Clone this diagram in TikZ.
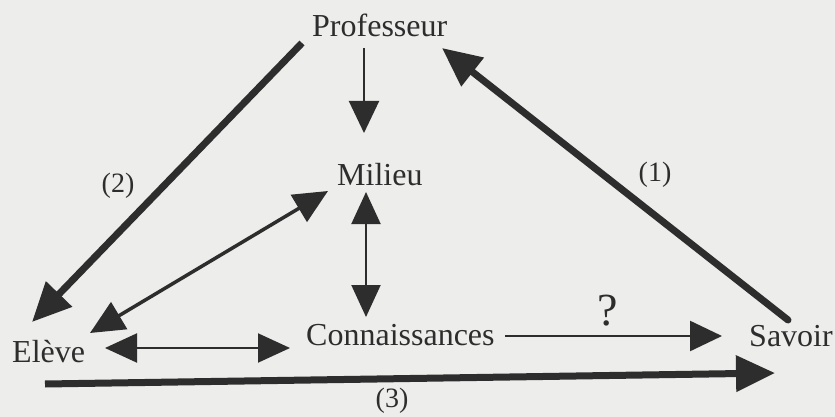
\documentclass[tikz,border=0pt]{standalone}
\usepackage{fontspec}
\setmainfont{Liberation Serif}
\usetikzlibrary{arrows.meta}
\definecolor{ink}{RGB}{45,45,45}
\definecolor{paper}{RGB}{237,237,235}
\tikzset{
  lbl/.style={inner sep=0pt, text=ink, font=\fontsize{32}{36}\selectfont, anchor=base west},
  num/.style={inner sep=0pt, text=ink, font=\fontsize{28}{32}\selectfont},
  thinarrow/.style={draw=ink, line width=2pt, -{Triangle[length=32pt,width=30pt]}},
  thinboth/.style={draw=ink, line width=2pt, {Triangle[length=32pt,width=29pt]}-{Triangle[length=32pt,width=29pt]}},
  medboth/.style={draw=ink, line width=3.5pt, {Triangle[length=34pt,width=31pt]}-{Triangle[length=34pt,width=31pt]}},
  thickarrow/.style={draw=ink, line width=7pt, -{Triangle[length=39pt,width=35pt]}}
}
\begin{document}
\begin{tikzpicture}[x=1pt,y=-1pt]
\fill[paper] (0,0) rectangle (835,417);
\useasboundingbox (0,0) rectangle (835,417);
% text nodes
\node[lbl] (prof) at (312,37) {Professeur};
\node[lbl] (mil) at (337,185) {Milieu};
\node[lbl] (elev) at (12,362) {Elève};
\node[lbl] (conn) at (306,345) {Connaissances};
\node[lbl] (sav) at (749,346) {Savoir};
% labels
\node[num] (l1) at (655,175) {(1)};
\node[num] (l2) at (118,186) {(2)};
\node[num] (l3) at (392,401) {(3)};
\node[inner sep=0pt, text=ink, font=\fontsize{46}{50}\selectfont] (lq) at (608,311) {?};
% connector end points
\coordinate (profS) at (364,48);
\coordinate (milN) at (364,133);
\coordinate (milS) at (366,192);
\coordinate (connN) at (366,317);
\coordinate (milW) at (328,191);
\coordinate (elevNE) at (90,333);
\coordinate (profW) at (302,43);
\coordinate (elevN) at (32,322);
\coordinate (elevE) at (105,348);
\coordinate (connW) at (290,348);
\coordinate (connE) at (505,336);
\coordinate (savW) at (722,336);
\coordinate (savNW) at (788,320);
\coordinate (profE) at (442,48);
\coordinate (elevS) at (45,384);
\coordinate (savS) at (775,373);
% connectors
\draw[thinarrow] (profS) -- (milN);
\draw[thinboth] (milS) -- (connN);
\draw[medboth] (milW) -- (elevNE);
\draw[thickarrow] (profW) -- (elevN);
\draw[thinboth] (elevE) -- (connW);
\draw[thinarrow, line width=2.5pt] (connE) -- (savW);
\draw[thickarrow, line cap=round] (savNW) -- (profE);
\draw[thickarrow] (elevS) -- (savS);
\end{tikzpicture}
\end{document}
